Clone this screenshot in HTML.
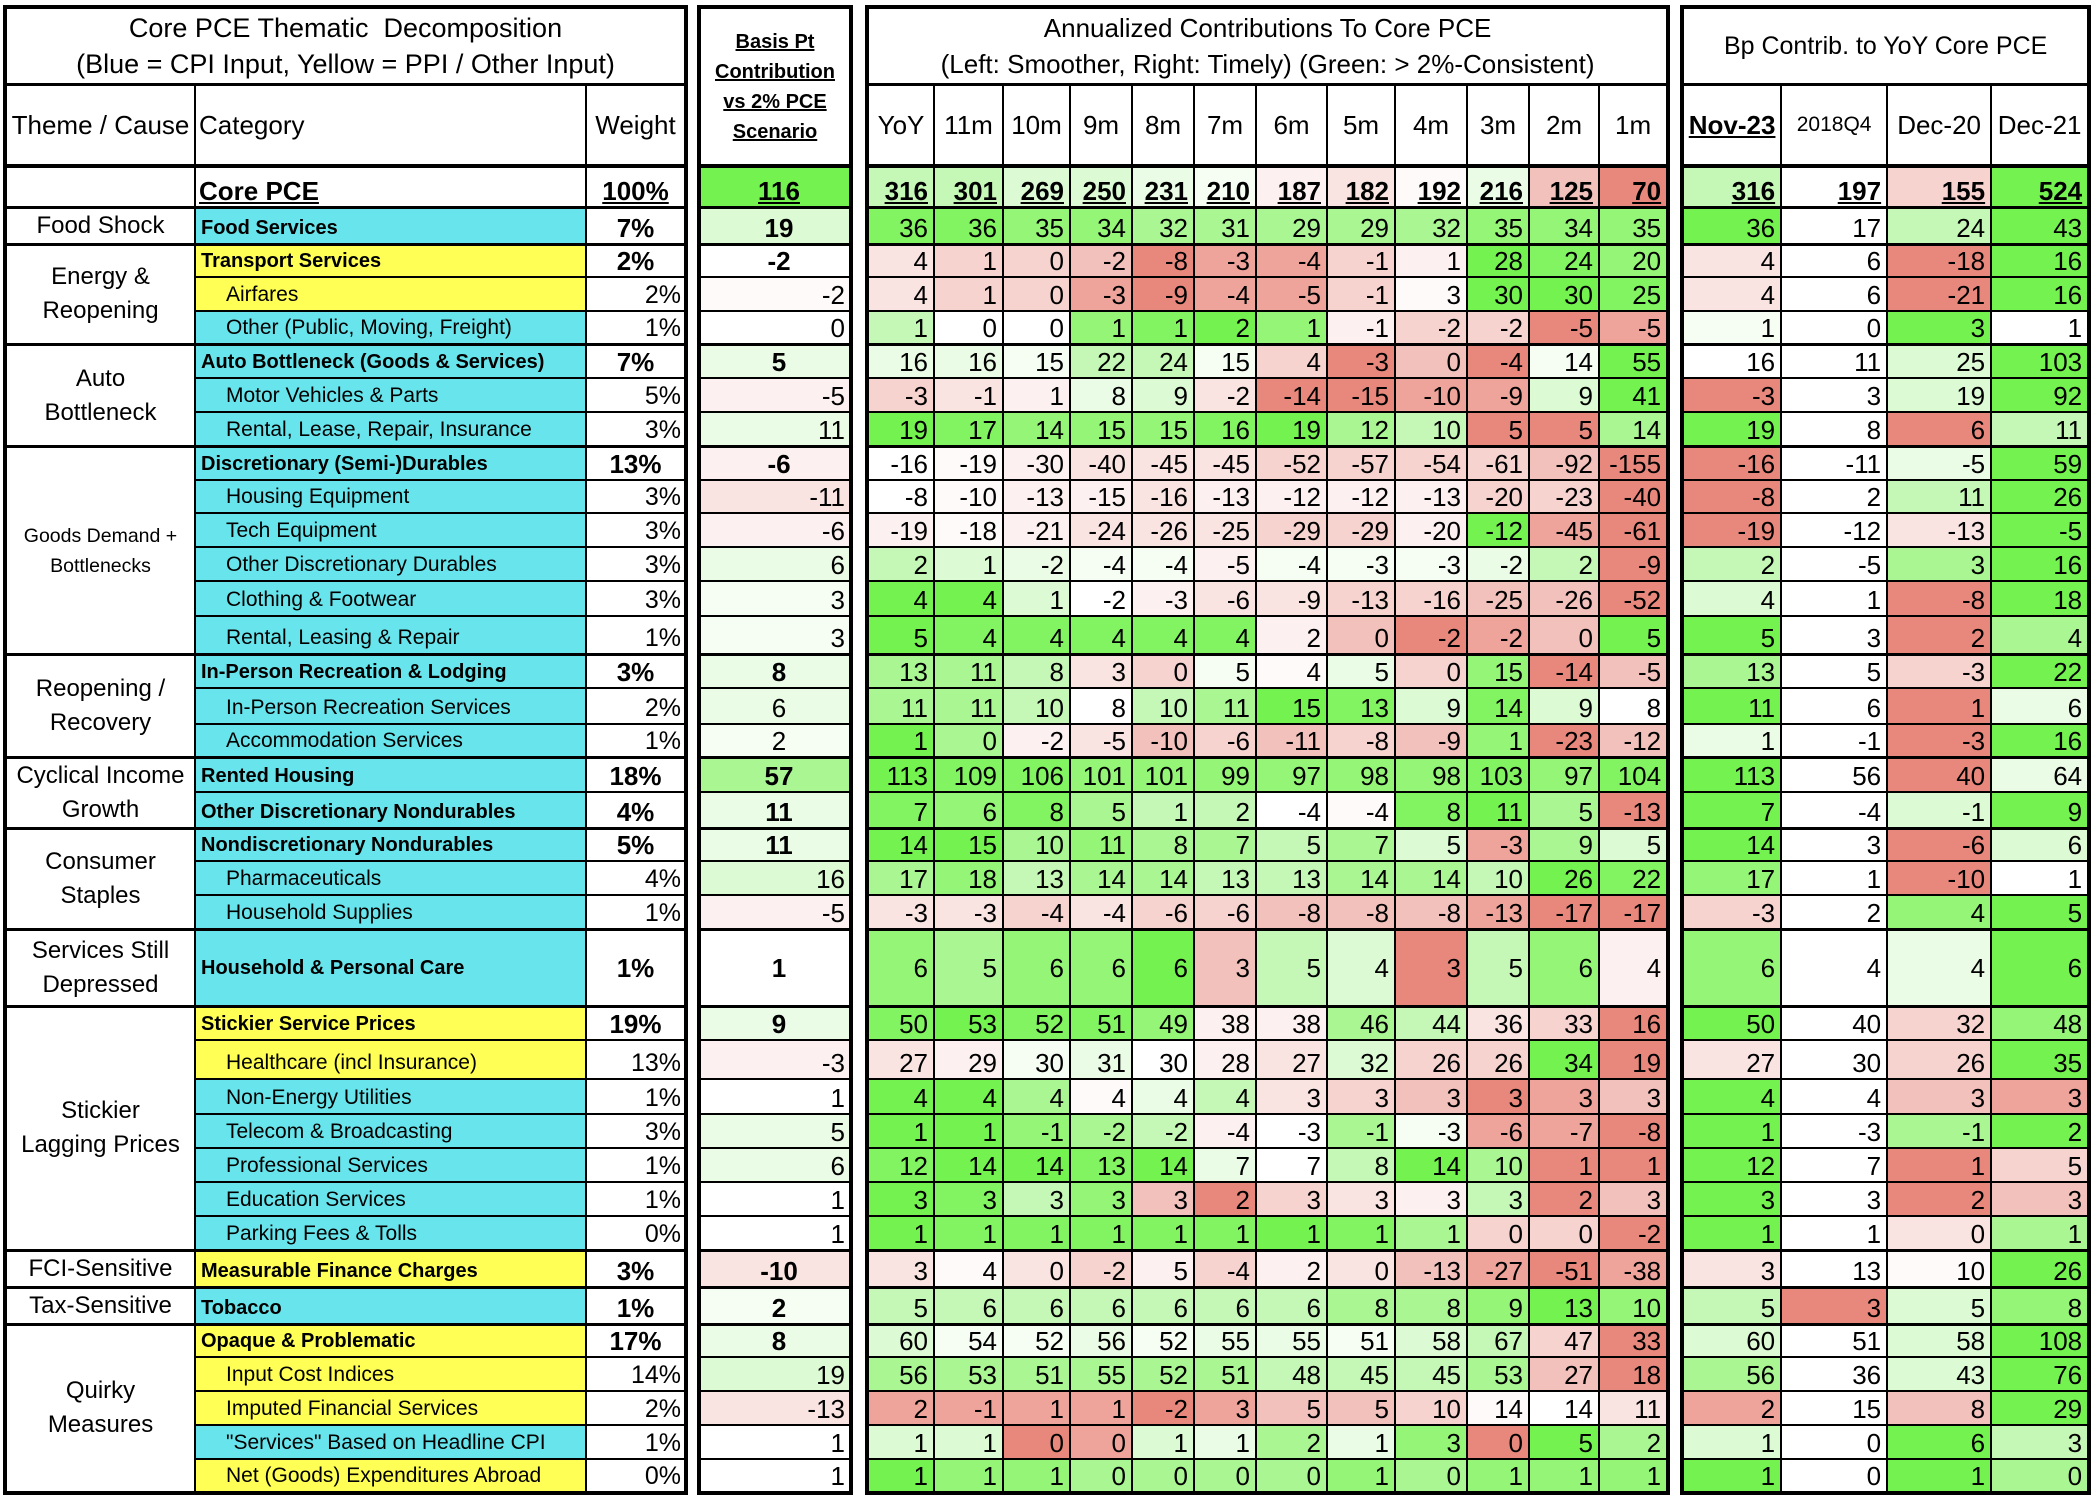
<!DOCTYPE html>
<html><head><meta charset="utf-8"><style>
body{margin:0;width:2100px;height:1498px;overflow:hidden;background:#fff;font-family:"Liberation Sans",Arial,sans-serif;color:#000}
table{position:absolute;left:3px;top:5px;border-collapse:collapse;table-layout:fixed;width:2084px}
td{border:2px solid #000;padding:0 5px 0 0;text-align:right;font-size:26px;line-height:30px;vertical-align:bottom;white-space:nowrap;overflow:hidden;background:#fff}
td.gap{border:none;padding:0}
.th{text-align:center;vertical-align:middle;font-size:24px;line-height:34px;padding:0}
.ths{font-size:19.5px;line-height:30px}
.ct{text-align:left;font-size:21px;padding:0 0 0 30px}
.ct.b{font-weight:bold;font-size:20px;padding-left:5px}
.c{background:#68e5ec}.y{background:#ffff55}
.wb{font-weight:bold;text-align:center;padding:0}
.wt{font-size:25px;padding-right:3px}
.bb{font-weight:bold;text-align:center;padding:0 0 0 8px}
.bn{padding-right:4px}
.bcn{text-align:center;padding:0 0 0 8px}
.k{font-weight:bold}
.ttl{text-align:center;vertical-align:middle;font-size:25px;line-height:36px;padding:0;border-top:4px solid #000;border-bottom:3px solid #000}
.hd{text-align:center;vertical-align:middle;font-size:26px;line-height:30px;padding:0}
.bh{text-align:center;vertical-align:middle;font-size:20px;line-height:30px;font-weight:bold;padding:0;border-top:4px solid #000;border-bottom:4px solid #000}
tr.hr td{border-bottom:4px solid #000}
tr.t td{border-top:3px solid #000}
tr.last td{border-bottom:4px solid #000}
tr.m td{vertical-align:middle}
.g5{background:#74f24f}.g4{background:#82f361}.g3{background:#94f577}.g2{background:#aaf693}.g1{background:#c5f8b6}.g0{background:#dcfad3}.ga{background:#ebfce6}.gw{background:#f6fef3}
.rw{background:#fefafa}.ra{background:#fcf1f0}.r0{background:#f9e4e2}.r1{background:#f6d3cf}.r2{background:#f2c1bb}.r3{background:#eea49b}.r4{background:#e8887c}
</style></head><body>
<table>
<colgroup>
<col style="width:190px;border-left:4px solid #000">
<col style="width:391px">
<col style="width:100px;border-right:4px solid #000">
<col style="width:13px">
<col style="width:152px;border-left:4px solid #000;border-right:4px solid #000">
<col style="width:16px">
<col style="width:67px;border-left:4px solid #000">
<col style="width:69px"><col style="width:67px"><col style="width:62px"><col style="width:62px"><col style="width:62px"><col style="width:71px"><col style="width:68px"><col style="width:72px"><col style="width:62px"><col style="width:70px">
<col style="width:69px;border-right:4px solid #000">
<col style="width:14px">
<col style="width:99px;border-left:4px solid #000">
<col style="width:106px"><col style="width:104px">
<col style="width:98px;border-right:4px solid #000">
</colgroup>
<tr style="height:77px">
<td colspan="3" class="ttl" style="font-size:27px">Core PCE Thematic&nbsp; Decomposition<br>(Blue = CPI Input, Yellow = PPI / Other Input)</td>
<td class="gap" rowspan="39"></td>
<td rowspan="2" class="bh"><u>Basis Pt</u><br><u>Contribution</u><br><u>vs 2% PCE</u><br><u>Scenario</u></td>
<td class="gap" rowspan="39"></td>
<td colspan="12" class="ttl" style="font-size:26px">Annualized Contributions To Core PCE<br>(Left: Smoother, Right: Timely) (Green: &gt; 2%-Consistent)</td>
<td class="gap" rowspan="39"></td>
<td colspan="4" class="ttl">Bp Contrib. to YoY Core PCE</td>
</tr>
<tr class="hr" style="height:82px">
<td class="hd">Theme / Cause</td><td class="hd" style="text-align:left;padding-left:3px">Category</td><td class="hd">Weight</td>
<td class="hd">YoY</td><td class="hd">11m</td><td class="hd">10m</td><td class="hd">9m</td><td class="hd">8m</td><td class="hd">7m</td><td class="hd">6m</td><td class="hd">5m</td><td class="hd">4m</td><td class="hd">3m</td><td class="hd">2m</td><td class="hd">1m</td>
<td class="hd" style="font-weight:bold"><u>Nov-23</u></td><td class="hd" style="font-size:21px">2018Q4</td><td class="hd">Dec-20</td><td class="hd">Dec-21</td>
</tr>
<tr class="k" style="height:41px">
<td></td><td class="ct b" style="font-size:26px;padding-left:3px"><u>Core PCE</u></td><td class="wb"><u>100%</u></td><td class="bb g5"><u>116</u></td>
<td class="g1"><u>316</u></td><td class="g1"><u>301</u></td><td class="g0"><u>269</u></td><td class="g0"><u>250</u></td><td class="ga"><u>231</u></td><td class="gw"><u>210</u></td><td class="ra"><u>187</u></td><td class="r0"><u>182</u></td><td class="rw"><u>192</u></td><td class="ga"><u>216</u></td><td class="r2"><u>125</u></td><td class="r4"><u>70</u></td>
<td class="g1"><u>316</u></td><td><u>197</u></td><td class="r1"><u>155</u></td><td class="g5"><u>524</u></td>
</tr>
<tr class="t" style="height:35px">
<td class="th">Food Shock</td><td class="ct b c">Food Services</td><td class="wb">7%</td><td class="bb g0">19</td>
<td class="g4">36</td><td class="g4">36</td><td class="g3">35</td><td class="g3">34</td><td class="g2">32</td><td class="g2">31</td><td class="g2">29</td><td class="g2">29</td><td class="g2">32</td><td class="g3">35</td><td class="g3">34</td><td class="g3">35</td>
<td class="g5">36</td><td>17</td><td class="g1">24</td><td class="g5">43</td>
</tr>
<tr class="t" style="height:32px">
<td class="th" rowspan="3">Energy &amp;<br>Reopening</td><td class="ct b y">Transport Services</td><td class="wb">2%</td><td class="bb">-2</td>
<td class="r0">4</td><td class="r1">1</td><td class="r1">0</td><td class="r2">-2</td><td class="r4">-8</td><td class="r3">-3</td><td class="r3">-4</td><td class="r1">-1</td><td class="ra">1</td><td class="g5">28</td><td class="g4">24</td><td class="g3">20</td>
<td class="r0">4</td><td>6</td><td class="r4">-18</td><td class="g5">16</td>
</tr>
<tr style="height:34px">
<td class="ct y">Airfares</td><td class="wt">2%</td><td class="bn rw">-2</td>
<td class="r0">4</td><td class="r1">1</td><td class="r1">0</td><td class="r3">-3</td><td class="r4">-9</td><td class="r3">-4</td><td class="r3">-5</td><td class="r1">-1</td><td class="rw">3</td><td class="g5">30</td><td class="g5">30</td><td class="g4">25</td>
<td class="r0">4</td><td>6</td><td class="r4">-21</td><td class="g5">16</td>
</tr>
<tr style="height:34px">
<td class="ct c">Other (Public, Moving, Freight)</td><td class="wt">1%</td><td class="bn">0</td>
<td class="g1">1</td><td>0</td><td>0</td><td class="g3">1</td><td class="g4">1</td><td class="g5">2</td><td class="g3">1</td><td class="ra">-1</td><td class="r1">-2</td><td class="r1">-2</td><td class="r4">-5</td><td class="r3">-5</td>
<td class="gw">1</td><td>0</td><td class="g5">3</td><td>1</td>
</tr>
<tr class="t" style="height:33px">
<td class="th" rowspan="3">Auto<br>Bottleneck</td><td class="ct b c">Auto Bottleneck (Goods &amp; Services)</td><td class="wb">7%</td><td class="bb ga">5</td>
<td class="ga">16</td><td class="ga">16</td><td class="gw">15</td><td class="g1">22</td><td class="g1">24</td><td class="gw">15</td><td class="r1">4</td><td class="r4">-3</td><td class="r2">0</td><td class="r4">-4</td><td class="gw">14</td><td class="g5">55</td>
<td>16</td><td>11</td><td class="g0">25</td><td class="g5">103</td>
</tr>
<tr style="height:34px">
<td class="ct c">Motor Vehicles &amp; Parts</td><td class="wt">5%</td><td class="bn ra">-5</td>
<td class="r1">-3</td><td class="r0">-1</td><td class="ra">1</td><td class="ga">8</td><td class="g0">9</td><td class="r0">-2</td><td class="r4">-14</td><td class="r4">-15</td><td class="r3">-10</td><td class="r3">-9</td><td class="g0">9</td><td class="g5">41</td>
<td class="r4">-3</td><td>3</td><td class="g0">19</td><td class="g5">92</td>
</tr>
<tr style="height:35px">
<td class="ct c">Rental, Lease, Repair, Insurance</td><td class="wt">3%</td><td class="bn ga">11</td>
<td class="g5">19</td><td class="g4">17</td><td class="g3">14</td><td class="g3">15</td><td class="g3">15</td><td class="g4">16</td><td class="g5">19</td><td class="g2">12</td><td class="g1">10</td><td class="r4">5</td><td class="r4">5</td><td class="g2">14</td>
<td class="g5">19</td><td>8</td><td class="r4">6</td><td class="g1">11</td>
</tr>
<tr class="t" style="height:33px">
<td class="th ths" rowspan="6">Goods Demand +<br>Bottlenecks</td><td class="ct b c">Discretionary (Semi-)Durables</td><td class="wb">13%</td><td class="bb ra">-6</td>
<td>-16</td><td class="rw">-19</td><td class="ra">-30</td><td class="r0">-40</td><td class="r0">-45</td><td class="r0">-45</td><td class="r1">-52</td><td class="r1">-57</td><td class="r1">-54</td><td class="r1">-61</td><td class="r2">-92</td><td class="r4">-155</td>
<td class="r4">-16</td><td>-11</td><td class="ga">-5</td><td class="g5">59</td>
</tr>
<tr style="height:33px">
<td class="ct c">Housing Equipment</td><td class="wt">3%</td><td class="bn r0">-11</td>
<td>-8</td><td class="rw">-10</td><td class="ra">-13</td><td class="ra">-15</td><td class="r0">-16</td><td class="ra">-13</td><td class="ra">-12</td><td class="ra">-12</td><td class="ra">-13</td><td class="r1">-20</td><td class="r1">-23</td><td class="r4">-40</td>
<td class="r4">-8</td><td>2</td><td class="g1">11</td><td class="g5">26</td>
</tr>
<tr style="height:34px">
<td class="ct c">Tech Equipment</td><td class="wt">3%</td><td class="bn ra">-6</td>
<td class="ra">-19</td><td class="rw">-18</td><td class="ra">-21</td><td class="r0">-24</td><td class="r0">-26</td><td class="r0">-25</td><td class="r1">-29</td><td class="r1">-29</td><td class="ra">-20</td><td class="g5">-12</td><td class="r3">-45</td><td class="r4">-61</td>
<td class="r4">-19</td><td>-12</td><td class="r0">-13</td><td class="g5">-5</td>
</tr>
<tr style="height:34px">
<td class="ct c">Other Discretionary Durables</td><td class="wt">3%</td><td class="bn ga">6</td>
<td class="g1">2</td><td class="g0">1</td><td class="ga">-2</td><td class="gw">-4</td><td class="gw">-4</td><td class="ra">-5</td><td class="gw">-4</td><td class="gw">-3</td><td class="gw">-3</td><td class="ga">-2</td><td class="g1">2</td><td class="r4">-9</td>
<td class="g1">2</td><td>-5</td><td class="g2">3</td><td class="g5">16</td>
</tr>
<tr style="height:35px">
<td class="ct c">Clothing &amp; Footwear</td><td class="wt">3%</td><td class="bn gw">3</td>
<td class="g5">4</td><td class="g5">4</td><td class="g0">1</td><td>-2</td><td class="ra">-3</td><td class="r0">-6</td><td class="r0">-9</td><td class="r1">-13</td><td class="r1">-16</td><td class="r2">-25</td><td class="r2">-26</td><td class="r4">-52</td>
<td class="g0">4</td><td>1</td><td class="r4">-8</td><td class="g5">18</td>
</tr>
<tr style="height:39px">
<td class="ct c">Rental, Leasing &amp; Repair</td><td class="wt">1%</td><td class="bn gw">3</td>
<td class="g5">5</td><td class="g4">4</td><td class="g4">4</td><td class="g4">4</td><td class="g4">4</td><td class="g4">4</td><td class="ra">2</td><td class="r2">0</td><td class="r4">-2</td><td class="r3">-2</td><td class="r2">0</td><td class="g5">5</td>
<td class="g5">5</td><td>3</td><td class="r4">2</td><td class="g2">4</td>
</tr>
<tr class="t" style="height:33px">
<td class="th" rowspan="3">Reopening /<br>Recovery</td><td class="ct b c">In-Person Recreation &amp; Lodging</td><td class="wb">3%</td><td class="bb ga">8</td>
<td class="g2">13</td><td class="g2">11</td><td class="g1">8</td><td class="r0">3</td><td class="r1">0</td><td class="gw">5</td><td class="rw">4</td><td class="ga">5</td><td class="r1">0</td><td class="g3">15</td><td class="r4">-14</td><td class="r2">-5</td>
<td class="g2">13</td><td>5</td><td class="r1">-3</td><td class="g5">22</td>
</tr>
<tr style="height:36px">
<td class="ct c">In-Person Recreation Services</td><td class="wt">2%</td><td class="bcn ga">6</td>
<td class="g2">11</td><td class="g2">11</td><td class="g1">10</td><td>8</td><td class="g1">10</td><td class="g2">11</td><td class="g5">15</td><td class="g4">13</td><td class="g0">9</td><td class="g4">14</td><td class="g0">9</td><td>8</td>
<td class="g5">11</td><td>6</td><td class="r4">1</td><td class="ga">6</td>
</tr>
<tr style="height:34px">
<td class="ct c">Accommodation Services</td><td class="wt">1%</td><td class="bcn gw">2</td>
<td class="g5">1</td><td class="g2">0</td><td class="ra">-2</td><td class="r0">-5</td><td class="r2">-10</td><td class="r1">-6</td><td class="r2">-11</td><td class="r1">-8</td><td class="r2">-9</td><td class="g3">1</td><td class="r4">-23</td><td class="r2">-12</td>
<td class="ga">1</td><td>-1</td><td class="r4">-3</td><td class="g5">16</td>
</tr>
<tr class="t" style="height:33px">
<td class="th" rowspan="2">Cyclical Income<br>Growth</td><td class="ct b c">Rented Housing</td><td class="wb">18%</td><td class="bb g2">57</td>
<td class="g5">113</td><td class="g4">109</td><td class="g4">106</td><td class="g3">101</td><td class="g3">101</td><td class="g3">99</td><td class="g3">97</td><td class="g3">98</td><td class="g3">98</td><td class="g4">103</td><td class="g3">97</td><td class="g4">104</td>
<td class="g5">113</td><td>56</td><td class="r4">40</td><td class="ga">64</td>
</tr>
<tr style="height:35px">
<td class="ct b c">Other Discretionary Nondurables</td><td class="wb">4%</td><td class="bb ga">11</td>
<td class="g4">7</td><td class="g3">6</td><td class="g4">8</td><td class="g2">5</td><td class="g1">1</td><td class="g1">2</td><td>-4</td><td class="rw">-4</td><td class="g4">8</td><td class="g5">11</td><td class="g2">5</td><td class="r4">-13</td>
<td class="g5">7</td><td>-4</td><td class="g0">-1</td><td class="g5">9</td>
</tr>
<tr class="t" style="height:32px">
<td class="th" rowspan="3">Consumer<br>Staples</td><td class="ct b c">Nondiscretionary Nondurables</td><td class="wb">5%</td><td class="bb ga">11</td>
<td class="g5">14</td><td class="g5">15</td><td class="g2">10</td><td class="g3">11</td><td class="g2">8</td><td class="g2">7</td><td class="g1">5</td><td class="g2">7</td><td class="g0">5</td><td class="r3">-3</td><td class="g2">9</td><td class="g0">5</td>
<td class="g5">14</td><td>3</td><td class="r4">-6</td><td class="g0">6</td>
</tr>
<tr style="height:34px">
<td class="ct c">Pharmaceuticals</td><td class="wt">4%</td><td class="bn g0">16</td>
<td class="g2">17</td><td class="g3">18</td><td class="g1">13</td><td class="g2">14</td><td class="g2">14</td><td class="g1">13</td><td class="g1">13</td><td class="g2">14</td><td class="g2">14</td><td class="g1">10</td><td class="g5">26</td><td class="g4">22</td>
<td class="g3">17</td><td>1</td><td class="r4">-10</td><td>1</td>
</tr>
<tr style="height:34px">
<td class="ct c">Household Supplies</td><td class="wt">1%</td><td class="bn ra">-5</td>
<td class="r0">-3</td><td class="r0">-3</td><td class="r1">-4</td><td class="r0">-4</td><td class="r1">-6</td><td class="r1">-6</td><td class="r2">-8</td><td class="r2">-8</td><td class="r2">-8</td><td class="r3">-13</td><td class="r4">-17</td><td class="r4">-17</td>
<td class="r1">-3</td><td>2</td><td class="g3">4</td><td class="g5">5</td>
</tr>
<tr class="t m" style="height:77px">
<td class="th">Services Still<br>Depressed</td><td class="ct b c">Household &amp; Personal Care</td><td class="wb">1%</td><td class="bb">1</td>
<td class="g3">6</td><td class="g2">5</td><td class="g3">6</td><td class="g3">6</td><td class="g5">6</td><td class="r2">3</td><td class="g1">5</td><td class="g0">4</td><td class="r4">3</td><td class="g1">5</td><td class="g3">6</td><td class="ra">4</td>
<td class="g3">6</td><td>4</td><td class="ga">4</td><td class="g5">6</td>
</tr>
<tr class="t" style="height:34px">
<td class="th" rowspan="7">Stickier<br>Lagging Prices</td><td class="ct b y">Stickier Service Prices</td><td class="wb">19%</td><td class="bb ga">9</td>
<td class="g4">50</td><td class="g5">53</td><td class="g4">52</td><td class="g4">51</td><td class="g3">49</td><td class="ra">38</td><td class="ra">38</td><td class="g2">46</td><td class="g1">44</td><td class="r0">36</td><td class="r1">33</td><td class="r4">16</td>
<td class="g5">50</td><td>40</td><td class="r1">32</td><td class="g3">48</td>
</tr>
<tr style="height:39px">
<td class="ct y">Healthcare (incl Insurance)</td><td class="wt">13%</td><td class="bn ra">-3</td>
<td class="r0">27</td><td class="ra">29</td><td class="gw">30</td><td class="ga">31</td><td>30</td><td class="ra">28</td><td class="r0">27</td><td class="g0">32</td><td class="r1">26</td><td class="r1">26</td><td class="g5">34</td><td class="r4">19</td>
<td class="r0">27</td><td>30</td><td class="r1">26</td><td class="g5">35</td>
</tr>
<tr style="height:35px">
<td class="ct c">Non-Energy Utilities</td><td class="wt">1%</td><td class="bn">1</td>
<td class="g5">4</td><td class="g5">4</td><td class="g2">4</td><td class="rw">4</td><td class="ga">4</td><td class="g1">4</td><td class="r0">3</td><td class="r1">3</td><td class="r2">3</td><td class="r4">3</td><td class="r3">3</td><td class="r2">3</td>
<td class="g5">4</td><td>4</td><td class="r2">3</td><td class="r3">3</td>
</tr>
<tr style="height:34px">
<td class="ct c">Telecom &amp; Broadcasting</td><td class="wt">3%</td><td class="bn ga">5</td>
<td class="g5">1</td><td class="g5">1</td><td class="g3">-1</td><td class="g2">-2</td><td class="g1">-2</td><td class="ra">-4</td><td>-3</td><td class="g2">-1</td><td class="gw">-3</td><td class="r3">-6</td><td class="r3">-7</td><td class="r4">-8</td>
<td class="g5">1</td><td>-3</td><td class="g2">-1</td><td class="g5">2</td>
</tr>
<tr style="height:34px">
<td class="ct c">Professional Services</td><td class="wt">1%</td><td class="bn ga">6</td>
<td class="g4">12</td><td class="g5">14</td><td class="g5">14</td><td class="g4">13</td><td class="g5">14</td><td class="ga">7</td><td>7</td><td class="g1">8</td><td class="g5">14</td><td class="g2">10</td><td class="r4">1</td><td class="r4">1</td>
<td class="g5">12</td><td>7</td><td class="r4">1</td><td class="r1">5</td>
</tr>
<tr style="height:34px">
<td class="ct c">Education Services</td><td class="wt">1%</td><td class="bn">1</td>
<td class="g5">3</td><td class="g4">3</td><td class="g1">3</td><td class="g3">3</td><td class="r2">3</td><td class="r4">2</td><td class="r1">3</td><td class="r0">3</td><td class="ra">3</td><td class="g1">3</td><td class="r4">2</td><td class="r2">3</td>
<td class="g5">3</td><td>3</td><td class="r4">2</td><td class="r2">3</td>
</tr>
<tr style="height:34px">
<td class="ct c">Parking Fees &amp; Tolls</td><td class="wt">0%</td><td class="bn">1</td>
<td class="g5">1</td><td class="g4">1</td><td class="g4">1</td><td class="g4">1</td><td class="g4">1</td><td class="g4">1</td><td class="g5">1</td><td class="g4">1</td><td class="g2">1</td><td class="r1">0</td><td class="r1">0</td><td class="r4">-2</td>
<td class="g5">1</td><td>1</td><td class="r0">0</td><td class="g2">1</td>
</tr>
<tr class="t" style="height:33px">
<td class="th">FCI-Sensitive</td><td class="ct b y">Measurable Finance Charges</td><td class="wb">3%</td><td class="bb r0">-10</td>
<td class="r0">3</td><td class="rw">4</td><td class="r0">0</td><td class="r1">-2</td><td class="ra">5</td><td class="r1">-4</td><td class="ra">2</td><td class="r0">0</td><td class="r2">-13</td><td class="r3">-27</td><td class="r4">-51</td><td class="r3">-38</td>
<td class="r0">3</td><td>13</td><td class="rw">10</td><td class="g5">26</td>
</tr>
<tr class="t" style="height:34px">
<td class="th">Tax-Sensitive</td><td class="ct b c">Tobacco</td><td class="wb">1%</td><td class="bb gw">2</td>
<td class="g1">5</td><td class="g1">6</td><td class="g1">6</td><td class="g1">6</td><td class="g1">6</td><td class="g1">6</td><td class="g1">6</td><td class="g2">8</td><td class="g2">8</td><td class="g3">9</td><td class="g5">13</td><td class="g3">10</td>
<td class="g1">5</td><td class="r4">3</td><td class="g0">5</td><td class="g3">8</td>
</tr>
<tr class="t" style="height:33px">
<td class="th" rowspan="5" style="border-bottom:4px solid #000">Quirky<br>Measures</td><td class="ct b y">Opaque &amp; Problematic</td><td class="wb">17%</td><td class="bb ga">8</td>
<td class="g0">60</td><td class="gw">54</td><td class="gw">52</td><td class="ga">56</td><td class="gw">52</td><td class="ga">55</td><td class="ga">55</td><td class="gw">51</td><td class="g0">58</td><td class="g1">67</td><td class="r1">47</td><td class="r4">33</td>
<td class="g0">60</td><td>51</td><td class="g0">58</td><td class="g5">108</td>
</tr>
<tr style="height:34px">
<td class="ct y">Input Cost Indices</td><td class="wt">14%</td><td class="bn g0">19</td>
<td class="g2">56</td><td class="g2">53</td><td class="g2">51</td><td class="g2">55</td><td class="g2">52</td><td class="g2">51</td><td class="g1">48</td><td class="g1">45</td><td class="g1">45</td><td class="g2">53</td><td class="r2">27</td><td class="r4">18</td>
<td class="g2">56</td><td>36</td><td class="g0">43</td><td class="g5">76</td>
</tr>
<tr style="height:34px">
<td class="ct y">Imputed Financial Services</td><td class="wt">2%</td><td class="bn r0">-13</td>
<td class="r3">2</td><td class="r3">-1</td><td class="r3">1</td><td class="r3">1</td><td class="r4">-2</td><td class="r3">3</td><td class="r2">5</td><td class="r2">5</td><td class="r1">10</td><td class="rw">14</td><td>14</td><td class="r0">11</td>
<td class="r3">2</td><td>15</td><td class="r2">8</td><td class="g5">29</td>
</tr>
<tr style="height:34px">
<td class="ct c">"Services" Based on Headline CPI</td><td class="wt">1%</td><td class="bn">1</td>
<td class="g0">1</td><td class="g0">1</td><td class="r4">0</td><td class="r3">0</td><td class="g0">1</td><td class="ga">1</td><td class="g2">2</td><td class="ga">1</td><td class="g3">3</td><td class="r4">0</td><td class="g5">5</td><td class="g2">2</td>
<td class="g0">1</td><td>0</td><td class="g5">6</td><td class="g1">3</td>
</tr>
<tr class="last" style="height:34px">
<td class="ct y">Net (Goods) Expenditures Abroad</td><td class="wt">0%</td><td class="bn">1</td>
<td class="g5">1</td><td class="g3">1</td><td class="g3">1</td><td class="g2">0</td><td class="g2">0</td><td class="g2">0</td><td class="g2">0</td><td class="g3">1</td><td class="g2">0</td><td class="g3">1</td><td class="g3">1</td><td class="g3">1</td>
<td class="g5">1</td><td>0</td><td class="g5">1</td><td class="g2">0</td>
</tr>
</table>
</body></html>
